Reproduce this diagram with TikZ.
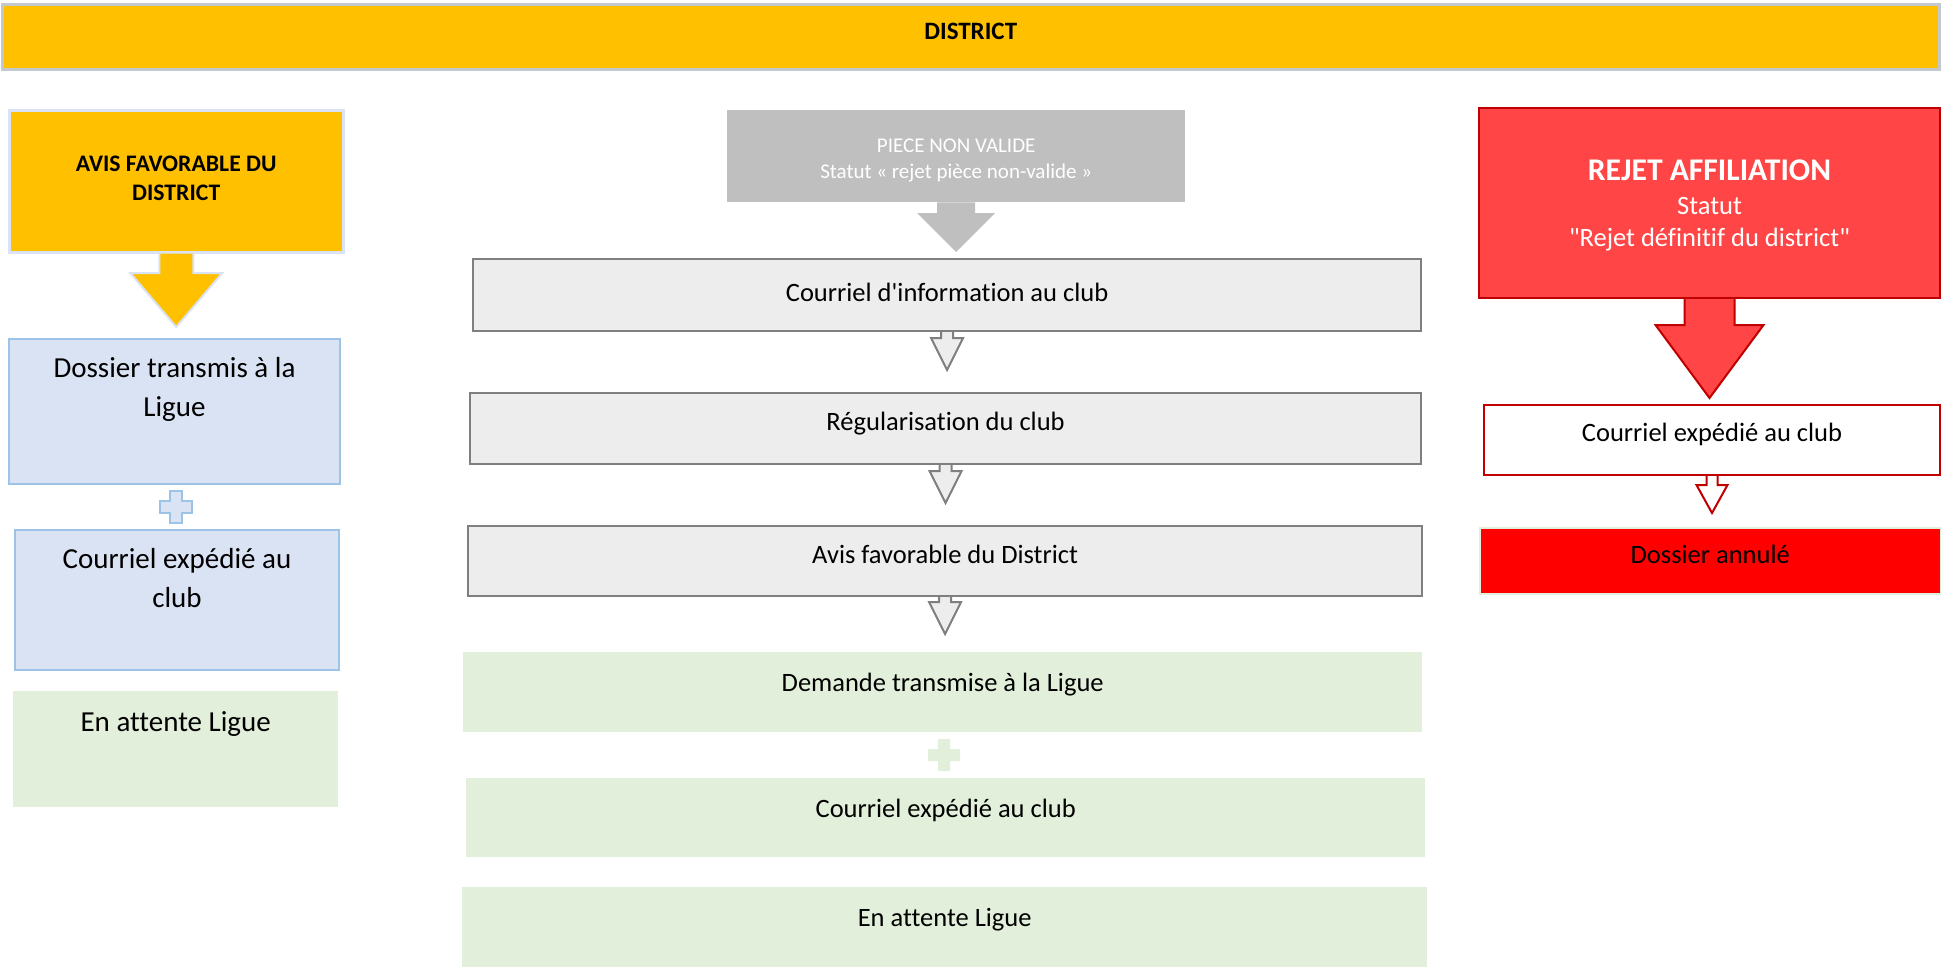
\documentclass[tikz,border=0pt]{standalone}
\usepackage{fontspec}
\setmainfont{Carlito}[Ligatures={TeXOff,NoCommon}]
\usepackage{xcolor}
\usepackage{tikz}
\usetikzlibrary{calc,positioning}

\definecolor{jaune}{HTML}{FFC000}
\definecolor{bleuclair}{HTML}{DAE3F3}
\definecolor{bleubord}{HTML}{9DC3E6}
\definecolor{vertclair}{HTML}{E2EFDA}
\definecolor{grismoyen}{HTML}{BFBFBF}
\definecolor{grisclair}{HTML}{EDEDED}
\definecolor{grisbord}{HTML}{7F7F7F}
\definecolor{bordbandeau}{HTML}{C3C7CE}
\definecolor{rougevif}{HTML}{FF4545}
\definecolor{rougebord}{HTML}{C00000}
\definecolor{rougepur}{HTML}{FF0000}

% fleche bloc : style, depart, arrivee, demi-tige, demi-tete, long. tete, ecart
\newcommand{\fleche}[7]{%
  \path (#2.south) coordinate (s) ($(#2.south |- #3.north)+(0,-#7)$) coordinate (t);
  \path[#1, draw=none] ($(s)+(-#4,0)$) -- ($(t)+(-#4,-#6)$) -- ($(t)+(-#5,-#6)$) -- (t)
    -- ($(t)+(#5,-#6)$) -- ($(t)+(#4,-#6)$) -- ($(s)+(#4,0)$) -- cycle;
  \path[#1, fill=none] ($(s)+(-#4,0)$) -- ($(t)+(-#4,-#6)$) -- ($(t)+(-#5,-#6)$) -- (t)
    -- ($(t)+(#5,-#6)$) -- ($(t)+(#4,-#6)$) -- ($(s)+(#4,0)$);
}
% signe plus : style, centre, demi-taille, demi-epaisseur
\newcommand{\signeplus}[4]{%
  \path[#1, shift={(#2)}] (-#4,-#3) -- (#4,-#3) -- (#4,-#4) -- (#3,-#4) -- (#3,#4) -- (#4,#4)
    -- (#4,#3) -- (-#4,#3) -- (-#4,#4) -- (-#3,#4) -- (-#3,-#4) -- (-#4,-#4) -- cycle;
}

\tikzset{
  box/.style={draw, rectangle, inner sep=0pt, anchor=north west},
  bandeau/.style={box, fill=jaune, draw=bordbandeau, line width=2.5pt},
  avisbox/.style={box, fill=jaune, draw=bleuclair, line width=2.5pt},
  liguebox/.style={box, fill=bleuclair, draw=bleubord, line width=2pt},
  vertbox/.style={box, fill=vertclair, draw=none},
  piecebox/.style={box, fill=grismoyen, draw=none},
  etapebox/.style={box, fill=grisclair, draw=grisbord, line width=2.2pt},
  rejetbox/.style={box, fill=rougevif, draw=rougebord, line width=2pt},
  blancbox/.style={box, fill=white, draw=rougebord, line width=2pt},
  annulebox/.style={box, fill=rougepur, draw=vertclair, line width=1.5pt},
  txt/.style={anchor=base, align=center, inner sep=0pt},
  txtgauche/.style={txt, font=\fontsize{29}{39}\selectfont},
  txtmilieu/.style={txt, font=\fontsize{26.5}{32}\selectfont},
  txtgras/.style={txt, font=\fontsize{23.7}{29}\selectfont\bfseries},
  txtpiece/.style={txt, text=white, font=\fontsize{21}{26}\selectfont},
  arrjaune/.style={fill=jaune, draw=bleuclair, line width=2pt, line join=miter},
  arrgris/.style={fill=grismoyen, draw=none},
  arretape/.style={fill=grisclair, draw=grisbord, line width=2pt, line join=miter},
  arrrouge/.style={fill=rougevif, draw=rougebord, line width=2pt, line join=miter},
  arrblanc/.style={fill=white, draw=rougebord, line width=2pt, line join=miter}
}

\begin{document}
\begin{tikzpicture}[x=1pt, y=-1pt]
    \useasboundingbox (0,0) rectangle (1941,967);
    % Bandeau
    \node[bandeau, minimum width=1937pt, minimum height=65pt] (district) at (1,3) {};
    \node[txt, font=\fontsize{25}{30}\selectfont\bfseries] (tdistrict) at ($(district.north)+(0,36)$) {DISTRICT};

    % Colonne de gauche
    \node[avisbox, minimum width=334pt, minimum height=142pt] (avis) at (8,109) {};
    \node[liguebox, minimum width=331pt, minimum height=145pt] (dos) at (8,338) {};
    \node[liguebox, minimum width=324pt, minimum height=140pt] (cour) at (14,529) {};
    \node[vertbox, minimum width=325pt, minimum height=116pt] (att) at (13,691) {};
    \fleche{arrjaune}{avis}{dos}{17}{46}{54}{11}
    \coordinate (p1) at ($(dos.south)!0.5!(cour.north)$);
    \signeplus{fill=bleuclair, draw=bleubord, line width=2pt}{p1}{16}{6}
    \node[txtgras] (tavis) at ($(avis.north)+(0,91)$) {AVIS FAVORABLE DU\\DISTRICT};
    \node[txtgauche] (tdos) at ($(dos.north)+(0,78)$) {Dossier transmis à la\\Ligue};
    \node[txtgauche] (tcour) at ($(cour.north)+(0,78)$) {Courriel expédié au\\club};
    \node[txtgauche] (tatt) at ($(att.north)+(0,40)$) {En attente Ligue};

    % Colonne du milieu
    \node[piecebox, minimum width=458pt, minimum height=92pt] (piece) at (727,110) {};
    \node[etapebox, minimum width=948pt, minimum height=72pt] (info) at (472,258) {};
    \node[etapebox, minimum width=951pt, minimum height=71pt] (regul) at (469,392) {};
    \node[etapebox, minimum width=954pt, minimum height=70pt] (favo) at (467,525) {};
    \node[vertbox, minimum width=959pt, minimum height=80pt] (dem) at (463,652) {};
    \node[vertbox, minimum width=959pt, minimum height=79pt] (courv) at (466,778) {};
    \node[vertbox, minimum width=965pt, minimum height=80pt] (attv) at (462,887) {};
    \fleche{arrgris}{piece}{info}{19}{39}{39}{6}
    \fleche{arretape}{info}{regul}{6}{16}{32}{22}
    \fleche{arretape}{regul}{favo}{6}{16}{32}{22}
    \fleche{arretape}{favo}{dem}{6}{16}{32}{18}
    \coordinate (p2) at ($(dem.south)!0.5!(courv.north)$);
    \signeplus{fill=vertclair}{p2}{16}{6}
    \node[txtpiece] (tpiece) at ($(piece.north)+(0,68)$) {PIECE NON VALIDE\\Statut « rejet pièce non-valide »};
    \node[txtmilieu] (tinfo) at ($(info.north)+(0,43.5)$) {Courriel d'information au club};
    \node[txtmilieu] (tregul) at ($(regul.north)+(0,38.5)$) {Régularisation du club};
    \node[txtmilieu] (tfavo) at ($(favo.north)+(0,38.5)$) {Avis favorable du District};
    \node[txtmilieu] (tdem) at ($(dem.north)+(0,39.5)$) {Demande transmise à la Ligue};
    \node[txtmilieu] (tcourv) at ($(courv.north)+(0,39.5)$) {Courriel expédié au club};
    \node[txtmilieu] (tattv) at ($(attv.north)+(0,39.5)$) {En attente Ligue};

    % Colonne de droite
    \node[rejetbox, minimum width=461pt, minimum height=190pt] (rejet) at (1478,107) {};
    \node[blancbox, minimum width=456pt, minimum height=70pt] (courr) at (1483,404) {};
    \node[annulebox, minimum width=461pt, minimum height=66pt] (annul) at (1479,527) {};
    \fleche{arrrouge}{rejet}{courr}{25}{54}{73}{6}
    \fleche{arrblanc}{courr}{annul}{5.5}{15.5}{28}{14}
    \node[txt, text=white, font=\fontsize{31.6}{35}\selectfont\bfseries] (trejet) at ($(rejet.north)+(0,73)$) {REJET AFFILIATION};
    \node[txtmilieu, text=white] (tstatut) at ($(rejet.north)+(0,139.5)$) {Statut\\"Rejet définitif du district"};
    \node[txtmilieu] (tcourr) at ($(courr.north)+(0,37.5)$) {Courriel expédié au club};
    \node[txtmilieu] (tannul) at ($(annul.north)+(0,36.5)$) {Dossier annulé};
\end{tikzpicture}
\end{document}
